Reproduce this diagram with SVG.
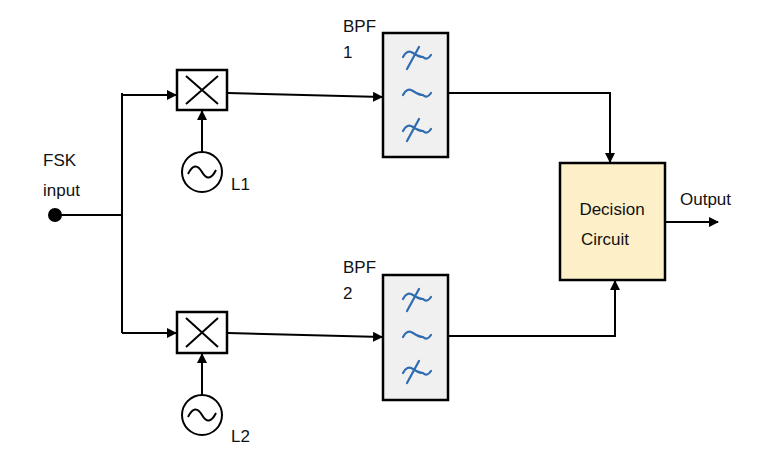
<svg xmlns="http://www.w3.org/2000/svg" width="774" height="468" viewBox="0 0 774 468">
<style>
.t{font-family:"Liberation Sans",Arial,sans-serif;font-size:17px;fill:#111}
.ln{stroke:#000;stroke-width:2;fill:none}
.bx{stroke:#000;stroke-width:2.5}
.sw{stroke:#2e6bb0;stroke-width:2.2;fill:none;stroke-linecap:round}
</style>
<defs>
<marker id="a" markerWidth="10" markerHeight="10" refX="9" refY="5" orient="auto" markerUnits="userSpaceOnUse" viewBox="0 0 10 10"><path d="M0,0 L10,5 L0,10z"/></marker>
<g id="flt">
<path class="sw" d="M-12,-38 q4,-8 10,-4 t10,4 q4,4 8,-2 M-8,-26 l12,-22"/>
<path class="sw" d="M-12,0 q4,-8 10,-4 t10,4 q4,4 8,-2"/>
<path class="sw" d="M-12,36 q4,-8 10,-4 t10,4 q4,4 8,-2 M-8,46 l12,-22"/>
</g>
</defs>
<rect width="774" height="468" fill="#fff"/>
<g id="connectors">
<circle cx="55" cy="215" r="7" fill="#000"/>
<path class="ln" d="M55,215 H122 M122,93 V333"/>
<path class="ln" d="M122,95 H176" marker-end="url(#a)"/>
<path class="ln" d="M122,333 H176" marker-end="url(#a)"/>
<path class="ln" d="M228,93 L382,97" marker-end="url(#a)"/>
<path class="ln" d="M228,333 L382,337" marker-end="url(#a)"/>
<path class="ln" d="M202,152 V111" marker-end="url(#a)"/>
<path class="ln" d="M202,395 V354" marker-end="url(#a)"/>
<path class="ln" d="M449,93 H610 V162" marker-end="url(#a)"/>
<path class="ln" d="M449,336 H615 V281" marker-end="url(#a)"/>
<path class="ln" d="M666,222 H718" marker-end="url(#a)"/>
</g>
<g id="input"><text class="t" x="43" y="166">FSK</text><text class="t" x="43" y="196">input</text></g>
<g id="mixer1"><rect class="bx" x="177" y="70" width="50" height="40" fill="#fff"/><path class="ln" d="M186,76 L218,104 M218,76 L186,104"/></g>
<g id="mixer2"><rect class="bx" x="177" y="312" width="50" height="41" fill="#fff"/><path class="ln" d="M186,318 L218,347 M218,318 L186,347"/></g>
<g id="osc1"><circle class="ln" cx="202" cy="172" r="20"/><path class="ln" d="M188,174 q7,-14 14,-2 t14,-2"/><text class="t" x="231" y="190">L1</text></g>
<g id="osc2"><circle class="ln" cx="202" cy="415" r="20"/><path class="ln" d="M188,417 q7,-14 14,-2 t14,-2"/><text class="t" x="231" y="442">L2</text></g>
<g id="bpf1"><rect class="bx" x="383" y="33" width="65" height="124" fill="#f0f0f0"/><use href="#flt" x="415" y="95"/><text class="t" x="343" y="32">BPF</text><text class="t" x="343" y="58">1</text></g>
<g id="bpf2"><rect class="bx" x="383" y="275" width="65" height="125" fill="#f0f0f0"/><use href="#flt" x="415" y="337"/><text class="t" x="343" y="273">BPF</text><text class="t" x="343" y="299">2</text></g>
<g id="decision"><rect class="bx" x="560" y="163" width="105" height="117" fill="#fdefc8"/><text class="t" x="612" y="215" text-anchor="middle">Decision</text><text class="t" x="605" y="245" text-anchor="middle">Circuit</text></g>
<g id="output"><text class="t" x="680" y="205">Output</text></g>
</svg>
